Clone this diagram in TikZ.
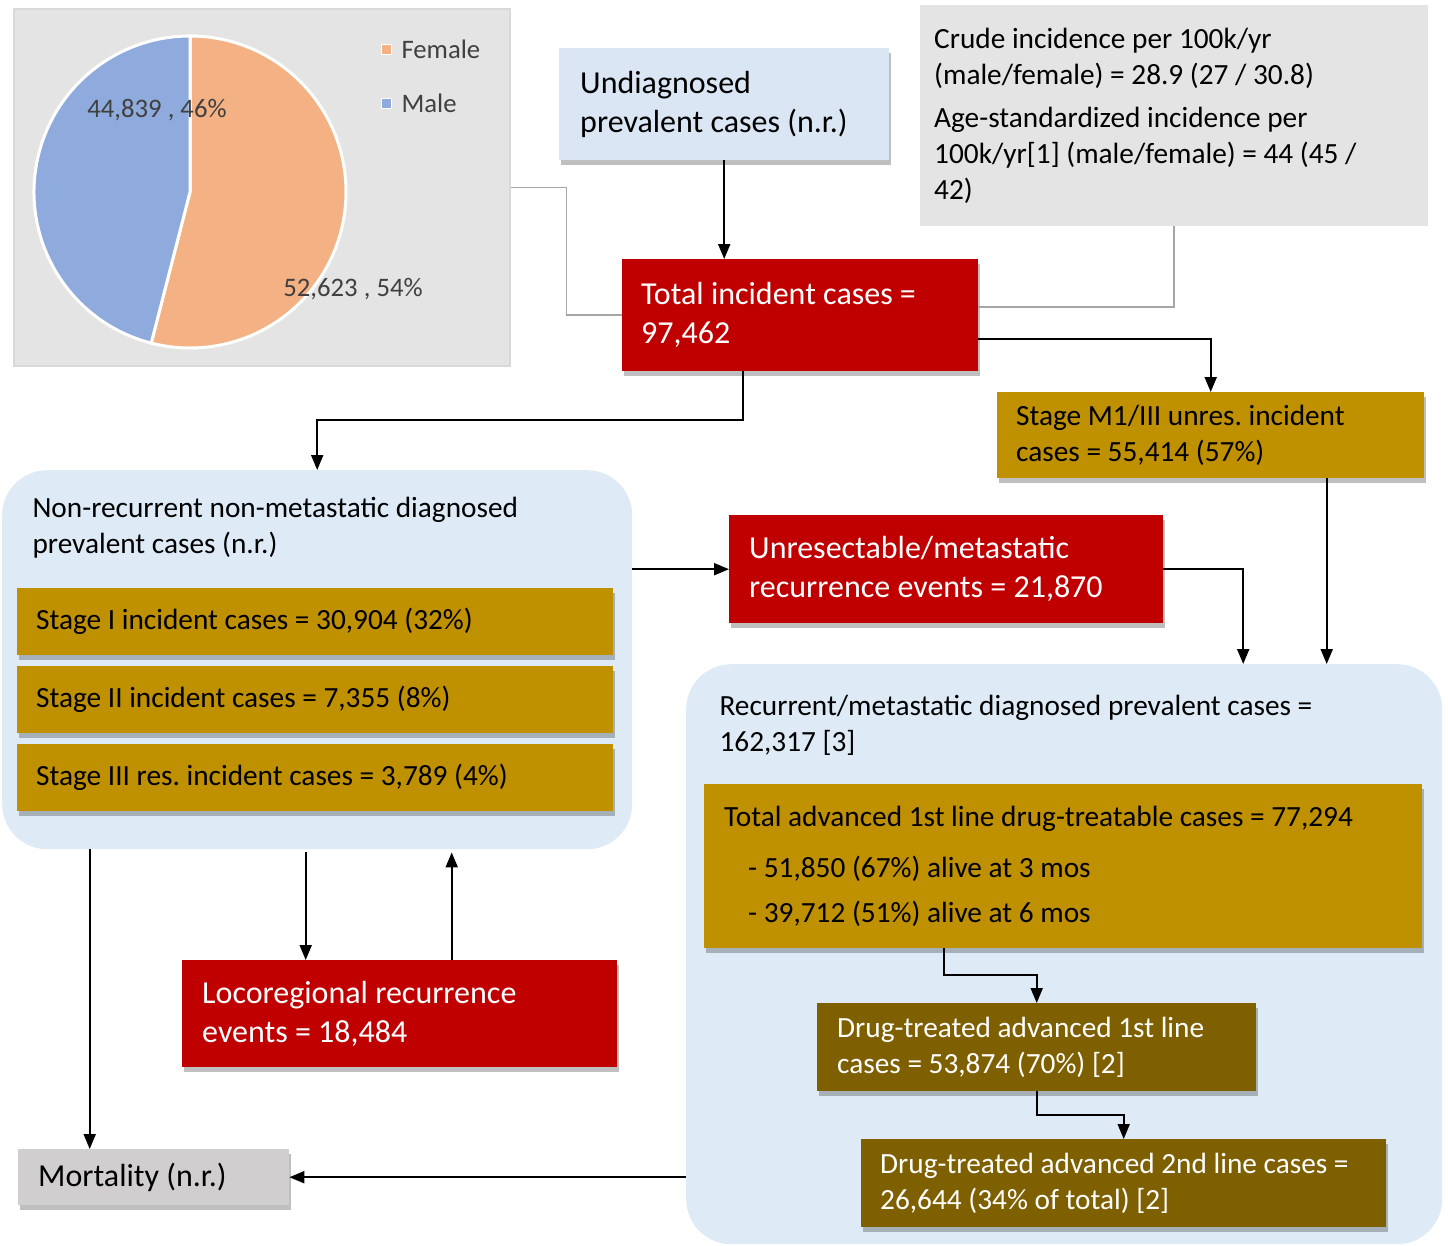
\documentclass[tikz,border=0pt]{standalone}
\usepackage{fontspec}
\setmainfont{Carlito}
\usetikzlibrary{arrows.meta}
\usetikzlibrary{shadows}
\definecolor{event colour}{HTML}{C00000}
\definecolor{stage colour}{HTML}{BF9000}
\definecolor{treated colour}{HTML}{7F6000}
\definecolor{pool colour}{HTML}{DEEBF7}
\definecolor{undiag colour}{HTML}{DAE6F3}
\definecolor{note colour}{HTML}{E4E4E4}
\definecolor{death colour}{HTML}{D0CECE}
\definecolor{link colour}{HTML}{A6A6A6}
\definecolor{female colour}{HTML}{F4B183}
\definecolor{male colour}{HTML}{8FAADC}
\definecolor{chart text}{HTML}{404040}
\newcommand\flowbig{\fontsize{32}{39}\selectfont}
\newcommand\flowsmall{\fontsize{29.3}{35.8}\selectfont}
\newcommand\flowchart{\fontsize{26.7}{32}\selectfont}
\frenchspacing
\tikzset{
    % Filled triangles on every connector
    >={Triangle[length=15pt,width=12pt]},
%
    % Fills
    event fill/.style={fill=event colour, text=white},
    stage fill/.style={fill=stage colour},
    treated fill/.style={fill=treated colour, text=white},
    pool fill/.style={fill=pool colour},
    note fill/.style={fill=note colour},
    % Lines
    flow/.style={line width=2pt, ->},
    link/.style={draw=link colour, line width=1.5pt},
%
    soft shadow/.style={drop shadow={shadow xshift=2pt, shadow yshift=-5pt,
        fill=black, opacity=0.25}},
    plate/.style={anchor=north west, inner xsep=19pt, inner ysep=0pt},
    every node/.style={align=flush left},
}

\begin{document}
\begin{tikzpicture}[
    x=1pt, y=-1pt,
    pool/.style={pool fill, rounded corners=45pt, anchor=north west, inner sep=0pt},
    chart panel/.style={anchor=north west, fill=note colour, draw=black!15,
        line width=1.5pt, inner sep=0pt},
    slice/.style={draw=white, line width=3pt},
    ]
\useasboundingbox (0,0) rectangle (1448,1245);

% pie chart of incident cases by sex
\path (13,8) node (chart) [chart panel, minimum width=496, minimum height=357] {};
\filldraw [slice, fill=female colour] (190,192) -- ++(-90:156)
    arc[start angle=-90, end angle=104.4, radius=156] -- cycle;
\filldraw [slice, fill=male colour] (190,192) -- ++(104.4:156)
    arc[start angle=104.4, end angle=270, radius=156] -- cycle;
\path [font=\flowchart, text=chart text]
    (157,110) node (malepct) {44,839 , 46\%}
    (353,289) node (femalepct) {52,623 , 54\%}
    (398,49) node (femalekey) [anchor=west] {Female}
    (398,103) node (malekey) [anchor=west] {Male};
\filldraw [draw=white, line width=1pt, fill=female colour] (381,44) rectangle (391,54);
\filldraw [draw=white, line width=1pt, fill=male colour] (381,98) rectangle (391,108);

% top row
\path
    (559,48) node (undiag) [plate, fill=undiag colour, soft shadow, font=\flowbig,
        inner xsep=21pt, minimum width=330, minimum height=112, text width=288]
        {Undiagnosed\\prevalent cases (n.r.)}
    (920,5) node (crude) [plate, note fill, font=\flowsmall,
        inner xsep=14pt, minimum width=508, minimum height=221, text width=480]
        {Crude incidence per 100k/yr\\(male/female) = 28.9 (27 / 30.8)\\[8pt]
         Age-standardized incidence per\\100k/yr[1] (male/female) = 44 (45 /\\42)\\[6pt]}
    (622,259) node (total) [plate, event fill, soft shadow, font=\flowbig,
        minimum width=356, minimum height=112, text width=318]
        {Total incident cases =\\97,462}
    (997,392) node (stagem) [plate, stage fill, soft shadow, font=\flowsmall,
        minimum width=427, minimum height=86, text width=389]
        {Stage M1/III unres. incident\\cases = 55,414 (57\%)};

% non-recurrent pool
\path
    (2,470) node (nonrec) [pool, minimum width=630, minimum height=379] {}
    (29,528) node (nonrectitle) [anchor=west, font=\flowsmall]
        {Non-recurrent non-metastatic diagnosed\\prevalent cases (n.r.)}
    (17,588) node (stagei) [plate, stage fill, soft shadow, font=\flowsmall,
        minimum width=596, minimum height=67, text width=558]
        {Stage I incident cases = 30,904 (32\%)}
    (17,666) node (stageii) [plate, stage fill, soft shadow, font=\flowsmall,
        minimum width=596, minimum height=67, text width=558]
        {Stage II incident cases = 7,355 (8\%)}
    (17,744) node (stageiii) [plate, stage fill, soft shadow, font=\flowsmall,
        minimum width=596, minimum height=67, text width=558]
        {Stage III res. incident cases = 3,789 (4\%)};

\path
    (729,515) node (unres) [plate, event fill, soft shadow, font=\flowbig,
        inner xsep=20pt, minimum width=434, minimum height=108, text width=394]
        {Unresectable/metastatic\\recurrence events = 21,870}
    (182,960) node (loco) [plate, event fill, soft shadow, font=\flowbig,
        inner xsep=20pt, minimum width=435, minimum height=107, text width=395]
        {Locoregional recurrence\\events = 18,484}
    (18,1149) node (mort) [plate, fill=death colour, soft shadow, font=\flowbig,
        inner xsep=20pt, minimum width=271, minimum height=56, text width=231]
        {Mortality (n.r.)};

% recurrent/metastatic pool
\path
    (686,664) node (recur) [pool, minimum width=756, minimum height=580] {}
    (716,725) node (recurtitle) [anchor=west, font=\flowsmall]
        {Recurrent/metastatic diagnosed prevalent cases =\\162,317 [3]}
    (704,784) node (totadv) [plate, stage fill, soft shadow, font=\flowsmall,
        inner xsep=20pt, minimum width=718, minimum height=164, text width=678]
        {Total advanced 1st line drug-treatable cases = 77,294\\[16pt]
         \hspace*{24pt}- 51,850 (67\%) alive at 3 mos\\[9pt]
         \hspace*{24pt}- 39,712 (51\%) alive at 6 mos}
    (817,1003) node (drugi) [plate, treated fill, soft shadow, font=\flowsmall,
        inner xsep=20pt, minimum width=439, minimum height=88, text width=399]
        {Drug-treated advanced 1st line\\cases = 53,874 (70\%) [2]}
    (861,1139) node (drugii) [plate, treated fill, soft shadow, font=\flowsmall,
        minimum width=525, minimum height=88, text width=487]
        {Drug-treated advanced 2nd line cases =\\26,644 (34\% of total) [2]};

% grey links to the notes
\draw [link] (chart.east) -- ++(56,0) |- (total.west);
\draw [link] (crude.south) |- ([yshift=8pt]total.east);

% connectors
\coordinate (mortin) at ([xshift=-64pt]mort.north);
\coordinate (locoin) at ([xshift=-94pt]loco.north);
\coordinate (locoout) at ([xshift=52pt]loco.north);
\coordinate (recurin) at ([xshift=179pt]recur.north);
\coordinate (stagemout) at ([xshift=116pt]stagem.south);

\draw [flow] (undiag.south) -- (undiag.south |- total.north);
\draw [flow] ([yshift=-24pt]total.east) -| (stagem.north);
\draw [flow] ([xshift=-57pt]total.south) -- ++(0,49) -| (nonrec.north);
\draw [flow] (nonrec.east |- unres.west) -- (unres.west);
\draw [flow] (unres.east) -| (recurin);
\draw [flow] (stagemout) -- (stagemout |- recur.north);
\draw [flow] (mortin |- nonrec.south) -- (mortin);
\draw [flow] ([yshift=-3pt]locoin |- nonrec.south) -- (locoin);
\draw [flow] (locoout) -- ([yshift=-3pt]locoout |- nonrec.south);
\draw [flow] ([xshift=-119pt]totadv.south) -- ++(0,27) -| (drugi.north);
\draw [flow] (drugi.south) -- ++(0,24) -| (drugii.north);
\draw [flow] (recur.west |- mort.east) -- (mort.east);

\end{tikzpicture}
\end{document}
